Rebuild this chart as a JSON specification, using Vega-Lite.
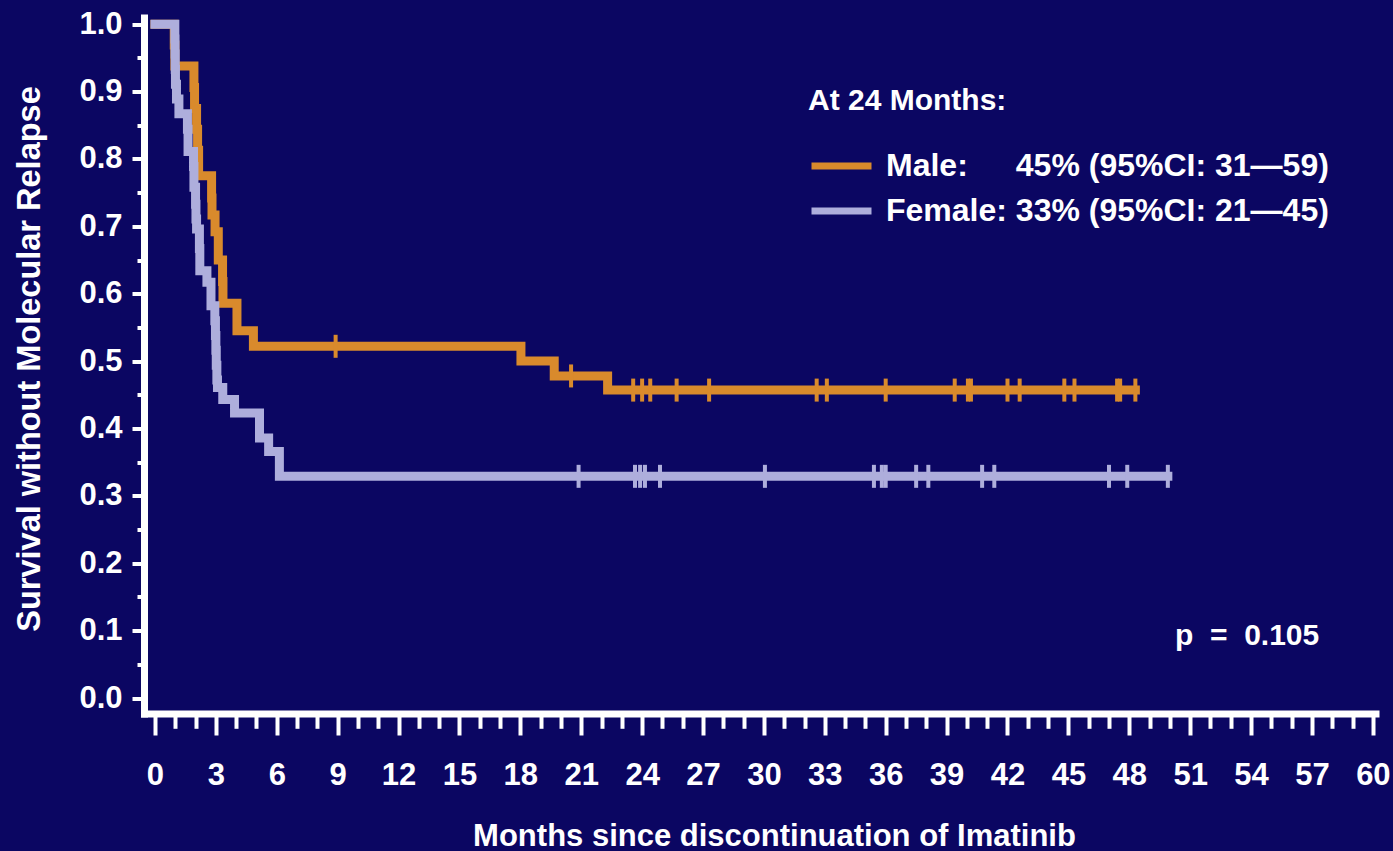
{
  "$schema": "https://vega.github.io/schema/vega-lite/v6.json",
  "width": 1231.5,
  "height": 696,
  "autosize": {"type": "none"},
  "padding": {"left": 144, "top": 17.5, "right": 17.5, "bottom": 137.5},
  "background": "#0b0662",
  "config": {
    "view": {"stroke": null},
    "font": "Liberation Sans",
    "axis": {
      "grid": false,
      "tickColor": "white",
      "domainColor": "white",
      "labelColor": "white",
      "titleColor": "white",
      "labelFont": "Liberation Sans",
      "titleFont": "Liberation Sans",
      "labelFontWeight": "bold",
      "titleFontWeight": "bold",
      "labelFontSize": 31,
      "titleFontSize": 31,
      "tickWidth": 4,
      "domainWidth": 7,
      "domainCap": "square",
      "labelOverlap": false,
      "labelFlush": false
    }
  },
  "datasets": {
    "km": [
      {"group": "Male", "t": 0, "s": 1.0},
      {"group": "Male", "t": 0.95, "s": 0.969},
      {"group": "Male", "t": 0.98, "s": 0.938},
      {"group": "Male", "t": 1.92, "s": 0.906},
      {"group": "Male", "t": 1.95, "s": 0.875},
      {"group": "Male", "t": 2.05, "s": 0.844},
      {"group": "Male", "t": 2.1, "s": 0.813},
      {"group": "Male", "t": 2.15, "s": 0.775},
      {"group": "Male", "t": 2.79, "s": 0.742},
      {"group": "Male", "t": 2.81, "s": 0.717},
      {"group": "Male", "t": 2.96, "s": 0.692},
      {"group": "Male", "t": 3.12, "s": 0.65},
      {"group": "Male", "t": 3.33, "s": 0.618},
      {"group": "Male", "t": 3.35, "s": 0.586},
      {"group": "Male", "t": 4.04, "s": 0.545},
      {"group": "Male", "t": 4.85, "s": 0.522},
      {"group": "Male", "t": 18.03, "s": 0.5},
      {"group": "Male", "t": 19.67, "s": 0.478},
      {"group": "Male", "t": 22.3, "s": 0.457},
      {"group": "Male", "t": 48.3, "s": 0.457},
      {"group": "Female", "t": 0, "s": 1.0},
      {"group": "Female", "t": 0.98, "s": 0.978},
      {"group": "Female", "t": 0.99, "s": 0.956},
      {"group": "Female", "t": 1.0, "s": 0.933},
      {"group": "Female", "t": 1.01, "s": 0.911},
      {"group": "Female", "t": 1.06, "s": 0.889},
      {"group": "Female", "t": 1.18, "s": 0.867},
      {"group": "Female", "t": 1.6, "s": 0.844},
      {"group": "Female", "t": 1.63, "s": 0.811},
      {"group": "Female", "t": 1.9, "s": 0.789},
      {"group": "Female", "t": 1.92, "s": 0.758},
      {"group": "Female", "t": 2.0, "s": 0.733},
      {"group": "Female", "t": 2.02, "s": 0.711},
      {"group": "Female", "t": 2.05, "s": 0.696},
      {"group": "Female", "t": 2.19, "s": 0.667},
      {"group": "Female", "t": 2.21, "s": 0.634},
      {"group": "Female", "t": 2.56, "s": 0.617},
      {"group": "Female", "t": 2.76, "s": 0.582},
      {"group": "Female", "t": 2.95, "s": 0.56},
      {"group": "Female", "t": 2.98, "s": 0.538},
      {"group": "Female", "t": 3.0, "s": 0.516},
      {"group": "Female", "t": 3.02, "s": 0.494},
      {"group": "Female", "t": 3.05, "s": 0.472},
      {"group": "Female", "t": 3.08, "s": 0.461},
      {"group": "Female", "t": 3.34, "s": 0.443},
      {"group": "Female", "t": 3.92, "s": 0.423},
      {"group": "Female", "t": 5.15, "s": 0.386},
      {"group": "Female", "t": 5.6, "s": 0.366},
      {"group": "Female", "t": 6.13, "s": 0.329},
      {"group": "Female", "t": 49.9, "s": 0.329}
    ],
    "censored": [
      {"group": "Male", "t": 8.9, "s": 0.522},
      {"group": "Male", "t": 20.5, "s": 0.478},
      {"group": "Male", "t": 23.56, "s": 0.457},
      {"group": "Male", "t": 24.0, "s": 0.457},
      {"group": "Male", "t": 24.4, "s": 0.457},
      {"group": "Male", "t": 25.7, "s": 0.457},
      {"group": "Male", "t": 27.3, "s": 0.457},
      {"group": "Male", "t": 32.6, "s": 0.457},
      {"group": "Male", "t": 33.1, "s": 0.457},
      {"group": "Male", "t": 36.0, "s": 0.457},
      {"group": "Male", "t": 39.4, "s": 0.457},
      {"group": "Male", "t": 40.05, "s": 0.457},
      {"group": "Male", "t": 40.2, "s": 0.457},
      {"group": "Male", "t": 42.0, "s": 0.457},
      {"group": "Male", "t": 42.6, "s": 0.457},
      {"group": "Male", "t": 44.8, "s": 0.457},
      {"group": "Male", "t": 45.3, "s": 0.457},
      {"group": "Male", "t": 47.4, "s": 0.457},
      {"group": "Male", "t": 47.55, "s": 0.457},
      {"group": "Male", "t": 48.3, "s": 0.457},
      {"group": "Female", "t": 20.87, "s": 0.329},
      {"group": "Female", "t": 23.65, "s": 0.329},
      {"group": "Female", "t": 23.9, "s": 0.329},
      {"group": "Female", "t": 24.14, "s": 0.329},
      {"group": "Female", "t": 24.88, "s": 0.329},
      {"group": "Female", "t": 30.05, "s": 0.329},
      {"group": "Female", "t": 35.42, "s": 0.329},
      {"group": "Female", "t": 35.81, "s": 0.329},
      {"group": "Female", "t": 36.0, "s": 0.329},
      {"group": "Female", "t": 37.5, "s": 0.329},
      {"group": "Female", "t": 38.1, "s": 0.329},
      {"group": "Female", "t": 40.75, "s": 0.329},
      {"group": "Female", "t": 41.35, "s": 0.329},
      {"group": "Female", "t": 47.0, "s": 0.329},
      {"group": "Female", "t": 47.9, "s": 0.329},
      {"group": "Female", "t": 49.9, "s": 0.329}
    ],
    "notes": [
      {"t": 50.25, "s": 0.079, "label": "p\u00a0 =\u00a0 0.105"}
    ]
  },
  "layer": [
    {
      "data": {"name": "km"},
      "transform": [{"filter": "datum.group === 'Male'"}],
      "mark": {"type": "line", "interpolate": "step-after", "strokeWidth": 9, "strokeCap": "square"},
      "encoding": {
        "x": {
          "field": "t", "type": "quantitative",
          "scale": {"domain": [-0.54, 60.13], "nice": false, "zero": false},
          "axis": {
            "orient": "bottom",
            "values": [0, 3, 6, 9, 12, 15, 18, 21, 24, 27, 30, 33, 36, 39, 42, 45, 48, 51, 54, 57, 60],
            "format": "d",
            "tickSize": 21.5,
            "labelPadding": 25.5,
            "title": "Months since discontinuation of Imatinib",
            "titleX": 630,
            "titleY": 131.5,
            "titleBaseline": "alphabetic",
            "titleAlign": "center"
          }
        },
        "y": {
          "field": "s", "type": "quantitative",
          "scale": {"domain": [-0.023, 1.01], "nice": false, "zero": false},
          "axis": {
            "orient": "left",
            "values": [0, 0.1, 0.2, 0.3, 0.4, 0.5, 0.6, 0.7, 0.8, 0.9, 1.0],
            "format": ".1f",
            "tickSize": 12,
            "labelPadding": 10,
            "title": "Survival without Molecular Relapse",
            "titleFontSize": 32.5,
            "titleAngle": -90,
            "titleX": -105,
            "titleY": 341,
            "titleBaseline": "alphabetic",
            "titleAlign": "center"
          }
        },
        "color": {
          "field": "group", "type": "nominal",
          "scale": {"domain": ["Male", "Female"], "range": ["#d98a2c", "#aeaedc"]},
          "legend": {
            "orient": "none",
            "legendX": 664,
            "legendY": 68.5,
            "direction": "vertical",
            "padding": 0,
            "title": "At 24 Months:",
            "titleFont": "Liberation Sans",
            "titleFontSize": 30,
            "titleFontWeight": "bold",
            "titleColor": "white",
            "titleLimit": 800,
            "titlePadding": 35,
            "labelFont": "Liberation Sans",
            "labelFontSize": 32,
            "labelFontWeight": "bold",
            "labelColor": "white",
            "labelLimit": 800,
            "labelOffset": 11,
            "symbolType": "stroke",
            "symbolSize": 3600,
            "symbolStrokeWidth": 7,
            "clipHeight": 30,
            "rowPadding": 13,
            "labelExpr": "datum.label === 'Male' ? 'Male:\u2002\u2002\u200245% (95%CI: 31\u201459)' : 'Female:\u00a033% (95%CI: 21\u201445)'"
          }
        }
      }
    },
    {
      "data": {"name": "km"},
      "transform": [{"filter": "datum.group === 'Female'"}],
      "mark": {"type": "line", "interpolate": "step-after", "strokeWidth": 9, "strokeCap": "square"},
      "encoding": {
        "x": {
          "field": "t", "type": "quantitative",
          "scale": {"domain": [-0.54, 60.13], "nice": false, "zero": false},
          "axis": {
            "orient": "bottom",
            "values": [1, 2, 4, 5, 7, 8, 10, 11, 13, 14, 16, 17, 19, 20, 22, 23, 25, 26, 28, 29, 31, 32, 34, 35, 37, 38, 40, 41, 43, 44, 46, 47, 49, 50, 52, 53, 55, 56, 58, 59],
            "tickSize": 14.8,
            "labels": false,
            "domain": false,
            "title": null
          }
        },
        "y": {
          "field": "s", "type": "quantitative",
          "scale": {"domain": [-0.023, 1.01], "nice": false, "zero": false},
          "axis": {
            "orient": "left",
            "values": [0.05, 0.15, 0.25, 0.35, 0.45, 0.55, 0.65, 0.75, 0.85, 0.95],
            "tickSize": 7,
            "labels": false,
            "domain": false,
            "title": null
          }
        },
        "color": {"field": "group", "type": "nominal"}
      }
    },
    {
      "data": {"name": "censored"},
      "transform": [{"filter": "datum.group === 'Male'"}],
      "mark": {"type": "tick", "orient": "vertical", "size": 23, "thickness": 4, "color": "#d98a2c", "opacity": 1},
      "encoding": {
        "x": {"field": "t", "type": "quantitative", "axis": null},
        "y": {"field": "s", "type": "quantitative", "axis": null}
      }
    },
    {
      "data": {"name": "censored"},
      "transform": [{"filter": "datum.group === 'Female'"}],
      "mark": {"type": "tick", "orient": "vertical", "size": 23, "thickness": 4, "color": "#aeaedc", "opacity": 1},
      "encoding": {
        "x": {"field": "t", "type": "quantitative", "axis": null},
        "y": {"field": "s", "type": "quantitative", "axis": null}
      }
    },
    {
      "data": {"name": "notes"},
      "mark": {"type": "text", "align": "left", "baseline": "alphabetic", "font": "Liberation Sans", "fontSize": 30, "fontWeight": "bold", "color": "white"},
      "encoding": {
        "x": {"field": "t", "type": "quantitative", "axis": null},
        "y": {"field": "s", "type": "quantitative", "axis": null},
        "text": {"field": "label"}
      }
    }
  ],
  "resolve": {"axis": {"x": "independent", "y": "independent"}}
}
